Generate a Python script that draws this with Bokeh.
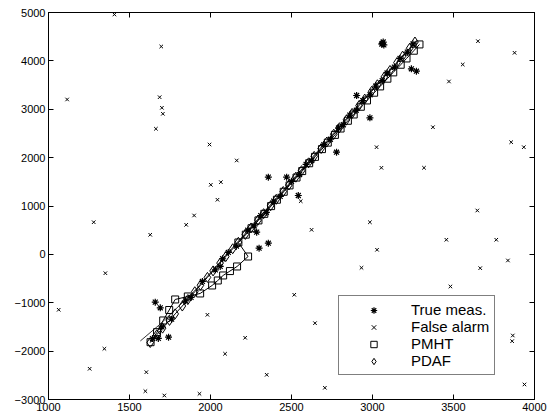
from bokeh.plotting import figure
from bokeh.models import LinearAxis, Legend, LegendItem, FixedTicker, Range1d
from bokeh.embed import file_html
from bokeh.resources import INLINE

# ---------------- data ----------------
x_ticks = [1000, 1500, 2000, 2500, 3000, 3500, 4000]
y_ticks = [-3000, -2000, -1000, 0, 1000, 2000, 3000, 4000, 5000]

truth_x = [1567, 1690, 1900, 2400, 2900, 3275]
truth_y = [-1790, -1440, -760, 1140, 3040, 4420]

pdaf_x = [1628, 1669, 1704, 1747, 1782, 1826, 1860, 1903, 1938, 1981, 2016, 2059, 2094, 2137,
          2172, 2215, 2250, 2293, 2328, 2371, 2406, 2449, 2484, 2527, 2562, 2605, 2640, 2683,
          2718, 2761, 2796, 2839, 2874, 2917, 2952, 2995, 3030, 3073, 3108, 3151, 3186, 3229, 3262]
pdaf_y = [-1822, -1660, -1525, -1365, -1230, -1068, -935, -772, -638, -476, -342, -180, -46, 116,
          250, 412, 546, 708, 842, 1004, 1138, 1300, 1434, 1596, 1730, 1892, 2026, 2188,
          2322, 2484, 2618, 2780, 2914, 3076, 3210, 3372, 3506, 3668, 3802, 3964, 4098, 4260, 4390]

pmht_x = [1630, 1670, 1708, 1745, 1782, 1860, 1936, 2010, 2045, 2078, 2120, 2164, 2232, 2172,
          2218, 2253, 2296, 2332, 2374, 2410, 2452, 2488, 2531, 2566, 2609, 2645, 2688, 2724,
          2768, 2803, 2848, 2884, 2928, 2966, 3010, 3047, 3092, 3128, 3174, 3210, 3255, 3290]
pmht_y = [-1815, -1608, -1366, -1150, -932, -870, -808, -643, -540, -436, -345, -250, -44, 246,
          408, 540, 702, 838, 998, 1130, 1294, 1426, 1588, 1722, 1884, 2016, 2176, 2310,
          2470, 2602, 2762, 2892, 3052, 3182, 3342, 3472, 3632, 3762, 3920, 4050, 4210, 4340]

true_x = [1642, 1700, 1760, 1845, 1880, 1950, 2030, 2075, 2110, 2160, 2230, 2270, 2310, 2345,
          2390, 2430, 2500, 2550, 2590, 2625, 2700, 2740, 2790, 2820, 2860, 2900, 2940, 2985,
          3020, 3060, 3090, 3135, 3170, 3215, 3250,
          3060, 3066, 3070, 3058, 3240, 3271, 2984, 2902, 2357, 2470, 2542, 2778, 2285, 2357,
          2300, 2060, 1659, 1690, 1741, 1678]
true_y = [-1740, -1500, -1340, -960, -890, -560, -320, -90, 40, 170, 500, 590, 800, 870,
          1100, 1200, 1510, 1650, 1860, 1940, 2270, 2380, 2610, 2680, 2880, 2980, 3180, 3300,
          3480, 3590, 3750, 3870, 4050, 4180, 4350,
          4360, 4390, 4330, 4345, 3836, 3787, 2823, 3284, 1596, 1596, 1217, 2112, 459, 231,
          128, -250, -988, -1104, -1712, -1738]

false_x = [1407, 1696, 1115, 1686, 1700, 1706, 1663, 1994, 3025, 3651, 3877, 3557, 3472, 3373,
           3856, 3934, 3055, 3318, 3647, 2984, 3456, 3764, 3028, 2932, 3836, 3665, 3481, 1279,
           1628, 1850, 1899, 1351, 2162, 2002, 2064, 2043, 2557, 2624, 1063, 1345, 1254, 1604,
           1598, 1715, 1932, 1981, 2214, 2090, 2347, 2517, 2645, 2706, 3866, 3862, 3938]
false_y = [4959, 4297, 3202, 3249, 3030, 2906, 2596, 2271, 2216, 4407, 4167, 3925, 3574, 2629,
           2319, 2216, 1790, 1790, 907, 665, 302, 302, 95, -277, -126, -285, -664, 665,
           405, 611, 804, -389, 1941, 1438, 1493, 1129, 1100, 508, -1145, -1951, -2365, -2435,
           -2828, -2917, -2882, -1249, -1724, -2055, -2489, -835, -1422, -2758, -1677, -1794, -2689]

labels = ["True meas.", "False alarm", "PMHT", "PDAF"]

# ---------------- figure ----------------
FONT = "Liberation Sans"
p = figure(width=550, height=418, x_range=Range1d(1000, 4000), y_range=Range1d(-3000, 5000),
           output_backend="svg", toolbar_location=None,
           min_border_left=48, min_border_top=12, min_border_right=16, min_border_bottom=19)
p.grid.visible = False
p.outline_line_color = "black"
p.background_fill_color = "white"
p.border_fill_color = "white"


def style_axis(ax, ticks, labels_on=True):
    ax.ticker = FixedTicker(ticks=ticks)
    ax.major_tick_in = 5
    ax.major_tick_out = 0
    ax.minor_tick_line_color = None
    ax.axis_line_color = "black"
    ax.major_tick_line_color = "black"
    ax.axis_line_width = 1
    if labels_on:
        ax.major_label_text_font = FONT
        ax.major_label_text_font_size = "11px"
        ax.major_label_text_color = "black"
        ax.major_label_standoff = 3
    else:
        ax.major_label_text_font_size = "1px"
        ax.major_label_text_color = None
        ax.major_label_standoff = 0


style_axis(p.xaxis[0], x_ticks)
style_axis(p.yaxis[0], y_ticks)
top = LinearAxis()
style_axis(top, x_ticks, labels_on=False)
p.add_layout(top, "above")
right = LinearAxis()
style_axis(right, y_ticks, labels_on=False)
p.add_layout(right, "right")

# lines
p.line(truth_x, truth_y, line_color="black", line_width=0.8)
p.line(pmht_x, pmht_y, line_color="black", line_width=1)
p.line(pdaf_x, pdaf_y, line_color="black", line_width=1)

# markers
r_true = p.scatter(true_x, true_y, marker="asterisk", size=7, line_color="black", line_width=1.2)
r_false = p.scatter(false_x, false_y, marker="x", size=5, line_color="black", line_width=1)
r_pmht = p.scatter(pmht_x, pmht_y, marker="square", size=7, line_color="black",
                   fill_color="white", fill_alpha=0, line_width=1)
r_pdaf = p.scatter(pdaf_x, pdaf_y, marker="diamond", size=10, line_color="black",
                   fill_color="white", fill_alpha=0, line_width=1)

legend = Legend(items=[LegendItem(label=labels[0], renderers=[r_true]),
                       LegendItem(label=labels[1], renderers=[r_false]),
                       LegendItem(label=labels[2], renderers=[r_pmht]),
                       LegendItem(label=labels[3], renderers=[r_pdaf])],
                location=(290, 24))
legend.label_text_font = FONT
legend.label_text_font_size = "15px"
legend.label_text_color = "black"
legend.glyph_width = 59
legend.glyph_height = 16
legend.label_height = 16
legend.label_standoff = 8
legend.spacing = 0
legend.padding = 5
legend.margin = 0
legend.border_line_color = "black"
legend.border_line_width = 1
legend.background_fill_color = "white"
legend.background_fill_alpha = 1
p.add_layout(legend)

open("out.html", "w").write(file_html(p, INLINE))
